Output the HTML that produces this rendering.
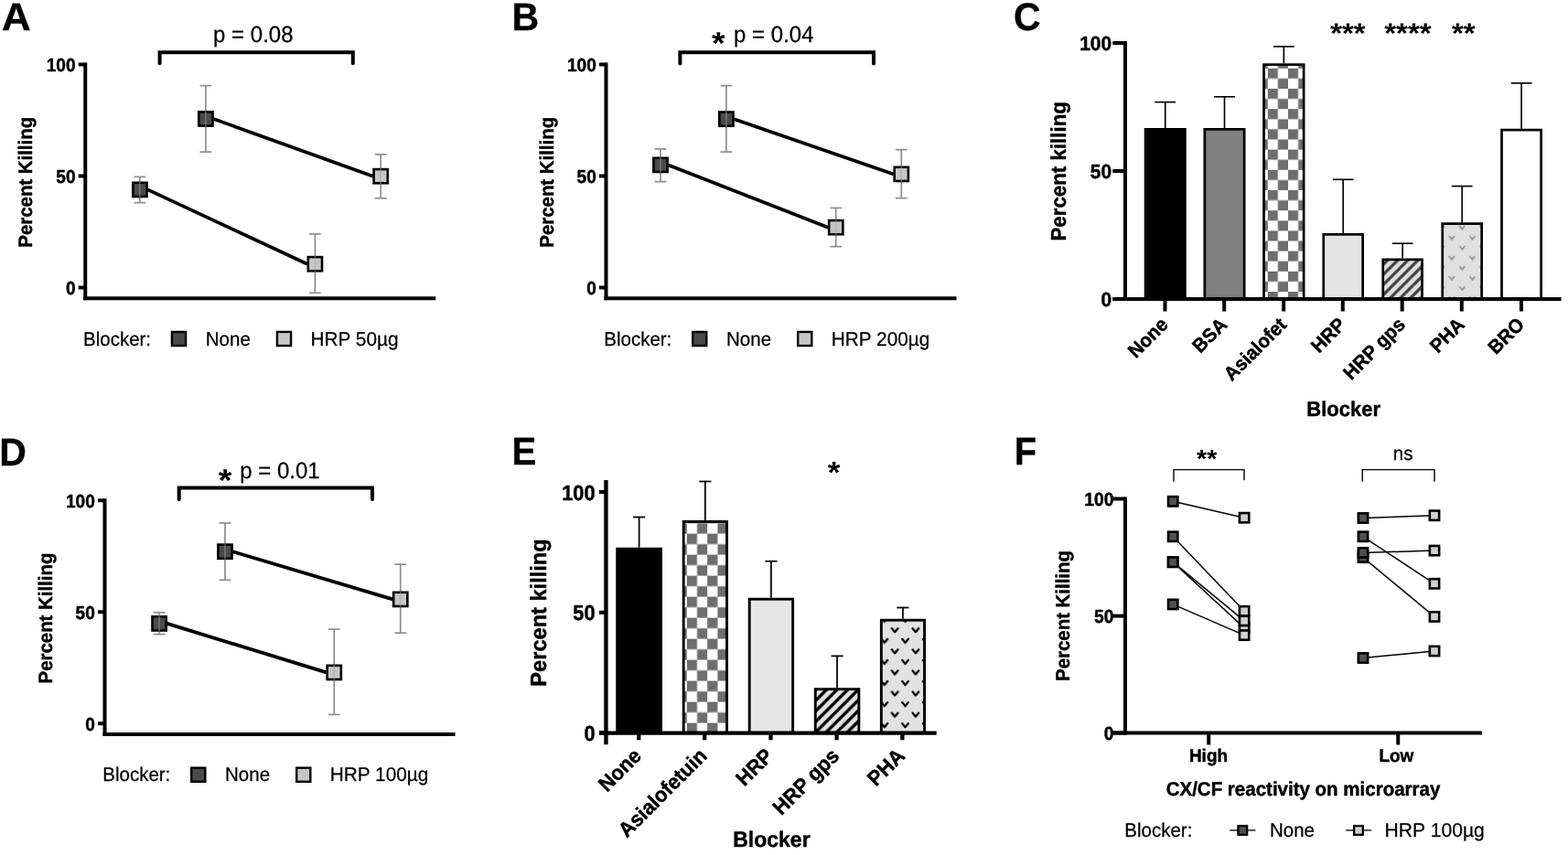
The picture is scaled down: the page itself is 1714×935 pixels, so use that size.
<!DOCTYPE html>
<html lang="en"><head><meta charset="utf-8"><title>Figure</title>
<style>
html,body{margin:0;padding:0;background:#fff;}
body{width:1714px;height:935px;overflow:hidden;}
svg{display:block;text-rendering:geometricPrecision;font-family:'Liberation Sans', sans-serif;}
svg text{fill:#000;}
</style></head>
<body>
<svg width="1714" height="935" viewBox="0 0 1714 935">
<rect x="0" y="0" width="1714" height="935" fill="#fff" stroke="none"/>
<text transform="translate(1.70 33.20) scale(1.08 1.04)" font-size="41" font-weight="700" text-anchor="start" stroke="#000" stroke-width="0.3" stroke-linejoin="round">A</text>
<line x1="93.25" y1="68.50" x2="93.25" y2="328.25" stroke="#000" stroke-width="4.0" stroke-linecap="butt"/>
<line x1="91.25" y1="326.25" x2="476.25" y2="326.25" stroke="#000" stroke-width="4.0" stroke-linecap="butt"/>
<line x1="85.75" y1="70.50" x2="93.25" y2="70.50" stroke="#000" stroke-width="4.0" stroke-linecap="butt"/>
<text transform="translate(82.55 78.20) scale(0.98 1.04)" font-size="19.5" font-weight="700" text-anchor="end" stroke="#000" stroke-width="0.45" stroke-linejoin="round">100</text>
<line x1="85.75" y1="192.50" x2="93.25" y2="192.50" stroke="#000" stroke-width="4.0" stroke-linecap="butt"/>
<text transform="translate(82.55 200.20) scale(0.98 1.04)" font-size="19.5" font-weight="700" text-anchor="end" stroke="#000" stroke-width="0.45" stroke-linejoin="round">50</text>
<line x1="85.75" y1="314.50" x2="93.25" y2="314.50" stroke="#000" stroke-width="4.0" stroke-linecap="butt"/>
<text transform="translate(82.55 322.20) scale(0.98 1.04)" font-size="19.5" font-weight="700" text-anchor="end" stroke="#000" stroke-width="0.45" stroke-linejoin="round">0</text>
<text transform="translate(35.30 199.30) rotate(-90) scale(1.0 1.04)" font-size="20.4" font-weight="700" text-anchor="middle" stroke="#000" stroke-width="0.45" stroke-linejoin="round">Percent Killing</text>
<polyline points="174.60,69.30 174.60,57.15 385.80,57.15 385.80,69.30" fill="none" stroke="#000" stroke-width="4.0" stroke-linecap="round" stroke-linejoin="miter"/>
<text transform="translate(233.10 46.00) scale(1.0 1.04)" font-size="24.0" text-anchor="start" stroke="#000" stroke-width="0.25" stroke-linejoin="round">p = 0.08</text>
<line x1="152.90" y1="193.40" x2="152.90" y2="221.65" stroke="#8e8e8e" stroke-width="1.7" stroke-linecap="butt"/>
<line x1="146.50" y1="193.40" x2="159.30" y2="193.40" stroke="#8e8e8e" stroke-width="1.7" stroke-linecap="butt"/>
<line x1="146.50" y1="221.65" x2="159.30" y2="221.65" stroke="#8e8e8e" stroke-width="1.7" stroke-linecap="butt"/>
<line x1="224.90" y1="93.65" x2="224.90" y2="166.15" stroke="#8e8e8e" stroke-width="1.7" stroke-linecap="butt"/>
<line x1="218.50" y1="93.65" x2="231.30" y2="93.65" stroke="#8e8e8e" stroke-width="1.7" stroke-linecap="butt"/>
<line x1="218.50" y1="166.15" x2="231.30" y2="166.15" stroke="#8e8e8e" stroke-width="1.7" stroke-linecap="butt"/>
<line x1="416.20" y1="168.90" x2="416.20" y2="216.80" stroke="#8e8e8e" stroke-width="1.7" stroke-linecap="butt"/>
<line x1="409.80" y1="168.90" x2="422.60" y2="168.90" stroke="#8e8e8e" stroke-width="1.7" stroke-linecap="butt"/>
<line x1="409.80" y1="216.80" x2="422.60" y2="216.80" stroke="#8e8e8e" stroke-width="1.7" stroke-linecap="butt"/>
<line x1="344.40" y1="255.90" x2="344.40" y2="320.30" stroke="#8e8e8e" stroke-width="1.7" stroke-linecap="butt"/>
<line x1="338.00" y1="255.90" x2="350.80" y2="255.90" stroke="#8e8e8e" stroke-width="1.7" stroke-linecap="butt"/>
<line x1="338.00" y1="320.30" x2="350.80" y2="320.30" stroke="#8e8e8e" stroke-width="1.7" stroke-linecap="butt"/>
<line x1="161.40" y1="207.40" x2="335.90" y2="288.70" stroke="#000" stroke-width="3.75" stroke-linecap="butt"/>
<line x1="233.40" y1="130.00" x2="407.70" y2="192.70" stroke="#000" stroke-width="3.75" stroke-linecap="butt"/>
<rect x="145.30" y="199.80" width="15.20" height="15.20" fill="#4a4a4a" stroke="#000" stroke-width="2.6"/>
<line x1="152.90" y1="198.60" x2="152.90" y2="216.20" stroke="rgba(160,160,160,0.5)" stroke-width="1.7" stroke-linecap="butt"/>
<rect x="217.30" y="122.40" width="15.20" height="15.20" fill="#4a4a4a" stroke="#000" stroke-width="2.6"/>
<line x1="224.90" y1="121.20" x2="224.90" y2="138.80" stroke="rgba(160,160,160,0.5)" stroke-width="1.7" stroke-linecap="butt"/>
<rect x="408.60" y="185.10" width="15.20" height="15.20" fill="#c6c6c6" stroke="#000" stroke-width="2.6"/>
<line x1="416.20" y1="183.90" x2="416.20" y2="201.50" stroke="rgba(160,160,160,0.5)" stroke-width="1.7" stroke-linecap="butt"/>
<rect x="336.80" y="281.10" width="15.20" height="15.20" fill="#c6c6c6" stroke="#000" stroke-width="2.6"/>
<line x1="344.40" y1="279.90" x2="344.40" y2="297.50" stroke="rgba(160,160,160,0.5)" stroke-width="1.7" stroke-linecap="butt"/>
<text transform="translate(91.00 377.50) scale(1.0 1.04)" font-size="20.5" text-anchor="start" stroke="#000" stroke-width="0.25" stroke-linejoin="round">Blocker:</text>
<rect x="187.95" y="362.95" width="15.10" height="15.10" fill="#4a4a4a" stroke="#000" stroke-width="2.4"/>
<text transform="translate(224.80 377.50) scale(1.0 1.04)" font-size="20.5" text-anchor="start" stroke="#000" stroke-width="0.25" stroke-linejoin="round">None</text>
<rect x="302.95" y="362.95" width="15.10" height="15.10" fill="#c6c6c6" stroke="#000" stroke-width="2.4"/>
<text transform="translate(339.50 377.50) scale(1.015 1.04)" font-size="20.5" text-anchor="start" stroke="#000" stroke-width="0.25" stroke-linejoin="round">HRP 50µg</text>
<text transform="translate(559.50 32.80) scale(1.0 1.04)" font-size="41" font-weight="700" text-anchor="start" stroke="#000" stroke-width="0.3" stroke-linejoin="round">B</text>
<line x1="662.50" y1="68.50" x2="662.50" y2="328.25" stroke="#000" stroke-width="4.0" stroke-linecap="butt"/>
<line x1="660.50" y1="326.25" x2="1045.50" y2="326.25" stroke="#000" stroke-width="4.0" stroke-linecap="butt"/>
<line x1="655.00" y1="70.50" x2="662.50" y2="70.50" stroke="#000" stroke-width="4.0" stroke-linecap="butt"/>
<text transform="translate(651.80 78.20) scale(0.98 1.04)" font-size="19.5" font-weight="700" text-anchor="end" stroke="#000" stroke-width="0.45" stroke-linejoin="round">100</text>
<line x1="655.00" y1="192.50" x2="662.50" y2="192.50" stroke="#000" stroke-width="4.0" stroke-linecap="butt"/>
<text transform="translate(651.80 200.20) scale(0.98 1.04)" font-size="19.5" font-weight="700" text-anchor="end" stroke="#000" stroke-width="0.45" stroke-linejoin="round">50</text>
<line x1="655.00" y1="314.50" x2="662.50" y2="314.50" stroke="#000" stroke-width="4.0" stroke-linecap="butt"/>
<text transform="translate(651.80 322.20) scale(0.98 1.04)" font-size="19.5" font-weight="700" text-anchor="end" stroke="#000" stroke-width="0.45" stroke-linejoin="round">0</text>
<text transform="translate(604.55 199.30) rotate(-90) scale(1.0 1.04)" font-size="20.4" font-weight="700" text-anchor="middle" stroke="#000" stroke-width="0.45" stroke-linejoin="round">Percent Killing</text>
<polyline points="743.40,69.60 743.40,57.30 955.00,57.30 955.00,69.60" fill="none" stroke="#000" stroke-width="4.0" stroke-linecap="round" stroke-linejoin="miter"/>
<text transform="translate(802.10 46.10) scale(1.0 1.04)" font-size="24.0" text-anchor="start" stroke="#000" stroke-width="0.25" stroke-linejoin="round">p = 0.04</text>
<text transform="translate(785.30 58.90) scale(1.08 1)" font-size="34.7" font-weight="700" text-anchor="middle">*</text>
<line x1="722.00" y1="162.90" x2="722.00" y2="198.65" stroke="#8e8e8e" stroke-width="1.7" stroke-linecap="butt"/>
<line x1="715.60" y1="162.90" x2="728.40" y2="162.90" stroke="#8e8e8e" stroke-width="1.7" stroke-linecap="butt"/>
<line x1="715.60" y1="198.65" x2="728.40" y2="198.65" stroke="#8e8e8e" stroke-width="1.7" stroke-linecap="butt"/>
<line x1="793.90" y1="93.65" x2="793.90" y2="166.15" stroke="#8e8e8e" stroke-width="1.7" stroke-linecap="butt"/>
<line x1="787.50" y1="93.65" x2="800.30" y2="93.65" stroke="#8e8e8e" stroke-width="1.7" stroke-linecap="butt"/>
<line x1="787.50" y1="166.15" x2="800.30" y2="166.15" stroke="#8e8e8e" stroke-width="1.7" stroke-linecap="butt"/>
<line x1="985.30" y1="163.65" x2="985.30" y2="216.65" stroke="#8e8e8e" stroke-width="1.7" stroke-linecap="butt"/>
<line x1="978.90" y1="163.65" x2="991.70" y2="163.65" stroke="#8e8e8e" stroke-width="1.7" stroke-linecap="butt"/>
<line x1="978.90" y1="216.65" x2="991.70" y2="216.65" stroke="#8e8e8e" stroke-width="1.7" stroke-linecap="butt"/>
<line x1="913.75" y1="227.40" x2="913.75" y2="269.65" stroke="#8e8e8e" stroke-width="1.7" stroke-linecap="butt"/>
<line x1="907.35" y1="227.40" x2="920.15" y2="227.40" stroke="#8e8e8e" stroke-width="1.7" stroke-linecap="butt"/>
<line x1="907.35" y1="269.65" x2="920.15" y2="269.65" stroke="#8e8e8e" stroke-width="1.7" stroke-linecap="butt"/>
<line x1="730.50" y1="180.40" x2="905.25" y2="248.65" stroke="#000" stroke-width="3.75" stroke-linecap="butt"/>
<line x1="802.40" y1="130.15" x2="976.80" y2="190.40" stroke="#000" stroke-width="3.75" stroke-linecap="butt"/>
<rect x="714.40" y="172.80" width="15.20" height="15.20" fill="#4a4a4a" stroke="#000" stroke-width="2.6"/>
<line x1="722.00" y1="171.60" x2="722.00" y2="189.20" stroke="rgba(160,160,160,0.5)" stroke-width="1.7" stroke-linecap="butt"/>
<rect x="786.30" y="122.55" width="15.20" height="15.20" fill="#4a4a4a" stroke="#000" stroke-width="2.6"/>
<line x1="793.90" y1="121.35" x2="793.90" y2="138.95" stroke="rgba(160,160,160,0.5)" stroke-width="1.7" stroke-linecap="butt"/>
<rect x="977.70" y="182.80" width="15.20" height="15.20" fill="#c6c6c6" stroke="#000" stroke-width="2.6"/>
<line x1="985.30" y1="181.60" x2="985.30" y2="199.20" stroke="rgba(160,160,160,0.5)" stroke-width="1.7" stroke-linecap="butt"/>
<rect x="906.15" y="241.05" width="15.20" height="15.20" fill="#c6c6c6" stroke="#000" stroke-width="2.6"/>
<line x1="913.75" y1="239.85" x2="913.75" y2="257.45" stroke="rgba(160,160,160,0.5)" stroke-width="1.7" stroke-linecap="butt"/>
<text transform="translate(660.25 377.50) scale(1.0 1.04)" font-size="20.5" text-anchor="start" stroke="#000" stroke-width="0.25" stroke-linejoin="round">Blocker:</text>
<rect x="757.20" y="362.95" width="15.10" height="15.10" fill="#4a4a4a" stroke="#000" stroke-width="2.4"/>
<text transform="translate(794.05 377.50) scale(1.0 1.04)" font-size="20.5" text-anchor="start" stroke="#000" stroke-width="0.25" stroke-linejoin="round">None</text>
<rect x="872.20" y="362.95" width="15.10" height="15.10" fill="#c6c6c6" stroke="#000" stroke-width="2.4"/>
<text transform="translate(908.75 377.50) scale(1.015 1.04)" font-size="20.5" text-anchor="start" stroke="#000" stroke-width="0.25" stroke-linejoin="round">HRP 200µg</text>
<text transform="translate(-0.70 508.50) scale(1.0 1.04)" font-size="41" font-weight="700" text-anchor="start" stroke="#000" stroke-width="0.3" stroke-linejoin="round">D</text>
<line x1="114.50" y1="545.25" x2="114.50" y2="805.00" stroke="#000" stroke-width="4.0" stroke-linecap="butt"/>
<line x1="112.50" y1="803.00" x2="497.50" y2="803.00" stroke="#000" stroke-width="4.0" stroke-linecap="butt"/>
<line x1="107.00" y1="547.25" x2="114.50" y2="547.25" stroke="#000" stroke-width="4.0" stroke-linecap="butt"/>
<text transform="translate(103.80 554.95) scale(0.98 1.04)" font-size="19.5" font-weight="700" text-anchor="end" stroke="#000" stroke-width="0.45" stroke-linejoin="round">100</text>
<line x1="107.00" y1="669.25" x2="114.50" y2="669.25" stroke="#000" stroke-width="4.0" stroke-linecap="butt"/>
<text transform="translate(103.80 676.95) scale(0.98 1.04)" font-size="19.5" font-weight="700" text-anchor="end" stroke="#000" stroke-width="0.45" stroke-linejoin="round">50</text>
<line x1="107.00" y1="791.25" x2="114.50" y2="791.25" stroke="#000" stroke-width="4.0" stroke-linecap="butt"/>
<text transform="translate(103.80 798.95) scale(0.98 1.04)" font-size="19.5" font-weight="700" text-anchor="end" stroke="#000" stroke-width="0.45" stroke-linejoin="round">0</text>
<text transform="translate(56.55 676.05) rotate(-90) scale(1.0 1.04)" font-size="20.4" font-weight="700" text-anchor="middle" stroke="#000" stroke-width="0.45" stroke-linejoin="round">Percent Killing</text>
<polyline points="195.70,546.00 195.70,533.50 407.00,533.50 407.00,546.00" fill="none" stroke="#000" stroke-width="4.0" stroke-linecap="round" stroke-linejoin="miter"/>
<text transform="translate(262.30 523.40) scale(1.0 1.04)" font-size="24.0" text-anchor="start" stroke="#000" stroke-width="0.25" stroke-linejoin="round">p = 0.01</text>
<text transform="translate(246.00 537.20) scale(1.08 1)" font-size="34.7" font-weight="700" text-anchor="middle">*</text>
<line x1="174.10" y1="669.80" x2="174.10" y2="693.65" stroke="#8e8e8e" stroke-width="1.7" stroke-linecap="butt"/>
<line x1="167.70" y1="669.80" x2="180.50" y2="669.80" stroke="#8e8e8e" stroke-width="1.7" stroke-linecap="butt"/>
<line x1="167.70" y1="693.65" x2="180.50" y2="693.65" stroke="#8e8e8e" stroke-width="1.7" stroke-linecap="butt"/>
<line x1="246.00" y1="572.00" x2="246.00" y2="634.30" stroke="#8e8e8e" stroke-width="1.7" stroke-linecap="butt"/>
<line x1="239.60" y1="572.00" x2="252.40" y2="572.00" stroke="#8e8e8e" stroke-width="1.7" stroke-linecap="butt"/>
<line x1="239.60" y1="634.30" x2="252.40" y2="634.30" stroke="#8e8e8e" stroke-width="1.7" stroke-linecap="butt"/>
<line x1="437.75" y1="617.10" x2="437.75" y2="692.15" stroke="#8e8e8e" stroke-width="1.7" stroke-linecap="butt"/>
<line x1="431.35" y1="617.10" x2="444.15" y2="617.10" stroke="#8e8e8e" stroke-width="1.7" stroke-linecap="butt"/>
<line x1="431.35" y1="692.15" x2="444.15" y2="692.15" stroke="#8e8e8e" stroke-width="1.7" stroke-linecap="butt"/>
<line x1="365.25" y1="688.15" x2="365.25" y2="781.40" stroke="#8e8e8e" stroke-width="1.7" stroke-linecap="butt"/>
<line x1="358.85" y1="688.15" x2="371.65" y2="688.15" stroke="#8e8e8e" stroke-width="1.7" stroke-linecap="butt"/>
<line x1="358.85" y1="781.40" x2="371.65" y2="781.40" stroke="#8e8e8e" stroke-width="1.7" stroke-linecap="butt"/>
<line x1="182.60" y1="681.90" x2="356.75" y2="735.40" stroke="#000" stroke-width="3.75" stroke-linecap="butt"/>
<line x1="254.50" y1="603.20" x2="429.25" y2="655.40" stroke="#000" stroke-width="3.75" stroke-linecap="butt"/>
<rect x="166.50" y="674.30" width="15.20" height="15.20" fill="#4a4a4a" stroke="#000" stroke-width="2.6"/>
<line x1="174.10" y1="673.10" x2="174.10" y2="690.70" stroke="rgba(160,160,160,0.5)" stroke-width="1.7" stroke-linecap="butt"/>
<rect x="238.40" y="595.60" width="15.20" height="15.20" fill="#4a4a4a" stroke="#000" stroke-width="2.6"/>
<line x1="246.00" y1="594.40" x2="246.00" y2="612.00" stroke="rgba(160,160,160,0.5)" stroke-width="1.7" stroke-linecap="butt"/>
<rect x="430.15" y="647.80" width="15.20" height="15.20" fill="#c6c6c6" stroke="#000" stroke-width="2.6"/>
<line x1="437.75" y1="646.60" x2="437.75" y2="664.20" stroke="rgba(160,160,160,0.5)" stroke-width="1.7" stroke-linecap="butt"/>
<rect x="357.65" y="727.80" width="15.20" height="15.20" fill="#c6c6c6" stroke="#000" stroke-width="2.6"/>
<line x1="365.25" y1="726.60" x2="365.25" y2="744.20" stroke="rgba(160,160,160,0.5)" stroke-width="1.7" stroke-linecap="butt"/>
<text transform="translate(112.25 854.25) scale(1.0 1.04)" font-size="20.5" text-anchor="start" stroke="#000" stroke-width="0.25" stroke-linejoin="round">Blocker:</text>
<rect x="209.20" y="839.70" width="15.10" height="15.10" fill="#4a4a4a" stroke="#000" stroke-width="2.4"/>
<text transform="translate(246.05 854.25) scale(1.0 1.04)" font-size="20.5" text-anchor="start" stroke="#000" stroke-width="0.25" stroke-linejoin="round">None</text>
<rect x="324.20" y="839.70" width="15.10" height="15.10" fill="#c6c6c6" stroke="#000" stroke-width="2.4"/>
<text transform="translate(360.75 854.25) scale(1.015 1.04)" font-size="20.5" text-anchor="start" stroke="#000" stroke-width="0.25" stroke-linejoin="round">HRP 100µg</text>
<defs>
<pattern id="chkC" x="1385.8" y="74.8" width="22.2" height="22.2" patternUnits="userSpaceOnUse">
<rect width="22.2" height="22.2" fill="#fff"/><rect x="0" y="0" width="11.1" height="11.1" fill="#6e6e6e"/><rect x="11.1" y="11.1" width="11.1" height="11.1" fill="#6e6e6e"/></pattern>
<pattern id="chkE" x="750.8" y="583.6" width="22.4" height="23.0" patternUnits="userSpaceOnUse">
<rect width="22.4" height="23.0" fill="#fff"/><rect x="0" y="0" width="11.2" height="11.5" fill="#6e6e6e"/><rect x="11.2" y="11.5" width="11.2" height="11.5" fill="#6e6e6e"/></pattern>
<pattern id="hatC" x="1521" y="313.53" width="11.07" height="11.07" patternUnits="userSpaceOnUse">
<rect width="11.07" height="11.07" fill="#e0e0e0"/><path d="M-3,3 L3,-3 M-1,12.07 L12.07,-1 M8.07,14.07 L14.07,8.07" stroke="#404040" stroke-width="3.3"/></pattern>
<pattern id="hatE" x="904.4" y="787.95" width="11.55" height="11.55" patternUnits="userSpaceOnUse">
<rect width="11.55" height="11.55" fill="#e2e2e2"/><path d="M-3,3 L3,-3 M-1,12.55 L12.55,-1 M8.55,14.55 L14.55,8.55" stroke="#000" stroke-width="3.4"/></pattern>
<pattern id="vC" x="1587.1" y="262.5" width="22.4" height="22.1" patternUnits="userSpaceOnUse">
<rect x="-1" y="-1" width="25" height="25" fill="#e0e0e0"/>
<path d="M-3.00,-3.80 L0.00,0.00 L3.00,-3.80 M19.40,-3.80 L22.40,0.00 L25.40,-3.80 M-3.00,18.30 L0.00,22.10 L3.00,18.30 M19.40,18.30 L22.40,22.10 L25.40,18.30 M8.20,7.25 L11.20,11.05 L14.20,7.25 M8.20,-14.85 L11.20,-11.05 L14.20,-14.85 M8.20,29.35 L11.20,33.15 L14.20,29.35 M-14.20,7.25 L-11.20,11.05 L-8.20,7.25 M30.60,7.25 L33.60,11.05 L36.60,7.25" stroke="#909090" stroke-width="1.7" fill="none" transform="translate(0 -0.7)"/></pattern>
<pattern id="vE" x="978.2" y="715.15" width="22.7" height="23.1" patternUnits="userSpaceOnUse">
<rect x="-1" y="-1" width="25" height="25" fill="#e2e2e2"/>
<path d="M-3.30,-4.00 L0.00,0.00 L3.30,-4.00 M19.40,-4.00 L22.70,0.00 L26.00,-4.00 M-3.30,19.10 L0.00,23.10 L3.30,19.10 M19.40,19.10 L22.70,23.10 L26.00,19.10 M8.05,7.55 L11.35,11.55 L14.65,7.55 M8.05,-15.55 L11.35,-11.55 L14.65,-15.55 M8.05,30.65 L11.35,34.65 L14.65,30.65 M-14.65,7.55 L-11.35,11.55 L-8.05,7.55 M30.75,7.55 L34.05,11.55 L37.35,7.55" stroke="#000" stroke-width="2.3" transform="translate(0 -0.8)" stroke-linecap="round" stroke-linejoin="round" fill="none"/></pattern>
</defs>
<text transform="translate(1107.90 32.80) scale(1.0 1.04)" font-size="41" font-weight="700" text-anchor="start" stroke="#000" stroke-width="0.3" stroke-linejoin="round">C</text>
<line x1="1273.75" y1="111.65" x2="1273.75" y2="140.00" stroke="#000" stroke-width="1.65" stroke-linecap="butt"/>
<line x1="1262.35" y1="111.65" x2="1285.15" y2="111.65" stroke="#000" stroke-width="1.65" stroke-linecap="butt"/>
<rect x="1252.10" y="141.35" width="43.30" height="185.65" fill="#000" stroke="#000" stroke-width="2.7"/>
<line x1="1338.50" y1="105.80" x2="1338.50" y2="140.00" stroke="#000" stroke-width="1.65" stroke-linecap="butt"/>
<line x1="1327.10" y1="105.80" x2="1349.90" y2="105.80" stroke="#000" stroke-width="1.65" stroke-linecap="butt"/>
<rect x="1316.85" y="141.35" width="43.30" height="185.65" fill="#808080" stroke="#000" stroke-width="2.7"/>
<line x1="1403.35" y1="50.90" x2="1403.35" y2="69.30" stroke="#000" stroke-width="1.65" stroke-linecap="butt"/>
<line x1="1391.95" y1="50.90" x2="1414.75" y2="50.90" stroke="#000" stroke-width="1.65" stroke-linecap="butt"/>
<rect x="1381.55" y="70.65" width="43.60" height="256.35" fill="url(#chkC)" stroke="#000" stroke-width="2.7"/>
<line x1="1468.20" y1="196.30" x2="1468.20" y2="255.00" stroke="#000" stroke-width="1.65" stroke-linecap="butt"/>
<line x1="1456.80" y1="196.30" x2="1479.60" y2="196.30" stroke="#000" stroke-width="1.65" stroke-linecap="butt"/>
<rect x="1446.75" y="256.35" width="42.90" height="70.65" fill="#e4e4e4" stroke="#000" stroke-width="2.7"/>
<line x1="1533.15" y1="266.20" x2="1533.15" y2="282.50" stroke="#000" stroke-width="1.65" stroke-linecap="butt"/>
<line x1="1521.75" y1="266.20" x2="1544.55" y2="266.20" stroke="#000" stroke-width="1.65" stroke-linecap="butt"/>
<rect x="1511.75" y="283.85" width="42.80" height="43.15" fill="url(#hatC)" stroke="#000" stroke-width="2.7"/>
<line x1="1598.20" y1="203.60" x2="1598.20" y2="243.25" stroke="#000" stroke-width="1.65" stroke-linecap="butt"/>
<line x1="1586.80" y1="203.60" x2="1609.60" y2="203.60" stroke="#000" stroke-width="1.65" stroke-linecap="butt"/>
<rect x="1576.75" y="244.60" width="42.90" height="82.40" fill="url(#vC)" stroke="#000" stroke-width="2.7"/>
<line x1="1663.10" y1="90.90" x2="1663.10" y2="140.75" stroke="#000" stroke-width="1.65" stroke-linecap="butt"/>
<line x1="1651.70" y1="90.90" x2="1674.50" y2="90.90" stroke="#000" stroke-width="1.65" stroke-linecap="butt"/>
<rect x="1641.55" y="142.10" width="43.10" height="184.90" fill="#fff" stroke="#000" stroke-width="2.7"/>
<line x1="1230.00" y1="45.00" x2="1230.00" y2="329.00" stroke="#000" stroke-width="4.0" stroke-linecap="butt"/>
<line x1="1216.25" y1="327.00" x2="1706.50" y2="327.00" stroke="#000" stroke-width="4.0" stroke-linecap="butt"/>
<line x1="1216.25" y1="47.00" x2="1230.00" y2="47.00" stroke="#000" stroke-width="4.0" stroke-linecap="butt"/>
<text transform="translate(1215.20 54.60) scale(1.0 1.04)" font-size="21" font-weight="700" text-anchor="end" stroke="#000" stroke-width="0.45" stroke-linejoin="round">100</text>
<line x1="1216.25" y1="187.00" x2="1230.00" y2="187.00" stroke="#000" stroke-width="4.0" stroke-linecap="butt"/>
<text transform="translate(1215.20 194.60) scale(1.0 1.04)" font-size="21" font-weight="700" text-anchor="end" stroke="#000" stroke-width="0.45" stroke-linejoin="round">50</text>
<line x1="1216.25" y1="327.00" x2="1230.00" y2="327.00" stroke="#000" stroke-width="4.0" stroke-linecap="butt"/>
<text transform="translate(1215.20 334.60) scale(1.0 1.04)" font-size="21" font-weight="700" text-anchor="end" stroke="#000" stroke-width="0.45" stroke-linejoin="round">0</text>
<line x1="1273.50" y1="327.00" x2="1273.50" y2="340.50" stroke="#000" stroke-width="4.0" stroke-linecap="butt"/>
<text transform="translate(1278.00 356.30) rotate(-45) scale(1.0 1.04)" font-size="20.5" font-weight="700" text-anchor="end" stroke="#000" stroke-width="0.45" stroke-linejoin="round">None</text>
<line x1="1338.20" y1="327.00" x2="1338.20" y2="340.50" stroke="#000" stroke-width="4.0" stroke-linecap="butt"/>
<text transform="translate(1342.70 356.30) rotate(-45) scale(1.0 1.04)" font-size="20.5" font-weight="700" text-anchor="end" stroke="#000" stroke-width="0.45" stroke-linejoin="round">BSA</text>
<line x1="1403.20" y1="327.00" x2="1403.20" y2="340.50" stroke="#000" stroke-width="4.0" stroke-linecap="butt"/>
<text transform="translate(1407.70 356.30) rotate(-45) scale(1.0 1.04)" font-size="20.5" font-weight="700" text-anchor="end" stroke="#000" stroke-width="0.45" stroke-linejoin="round">Asialofet</text>
<line x1="1467.80" y1="327.00" x2="1467.80" y2="340.50" stroke="#000" stroke-width="4.0" stroke-linecap="butt"/>
<text transform="translate(1472.30 356.30) rotate(-45) scale(1.0 1.04)" font-size="20.5" font-weight="700" text-anchor="end" stroke="#000" stroke-width="0.45" stroke-linejoin="round">HRP</text>
<line x1="1532.70" y1="327.00" x2="1532.70" y2="340.50" stroke="#000" stroke-width="4.0" stroke-linecap="butt"/>
<text transform="translate(1537.20 356.30) rotate(-45) scale(1.0 1.04)" font-size="20.5" font-weight="700" text-anchor="end" stroke="#000" stroke-width="0.45" stroke-linejoin="round">HRP gps</text>
<line x1="1597.80" y1="327.00" x2="1597.80" y2="340.50" stroke="#000" stroke-width="4.0" stroke-linecap="butt"/>
<text transform="translate(1602.30 356.30) rotate(-45) scale(1.0 1.04)" font-size="20.5" font-weight="700" text-anchor="end" stroke="#000" stroke-width="0.45" stroke-linejoin="round">PHA</text>
<line x1="1663.00" y1="327.00" x2="1663.00" y2="340.50" stroke="#000" stroke-width="4.0" stroke-linecap="butt"/>
<text transform="translate(1667.50 356.30) rotate(-45) scale(1.0 1.04)" font-size="20.5" font-weight="700" text-anchor="end" stroke="#000" stroke-width="0.45" stroke-linejoin="round">BRO</text>
<text transform="translate(1164.80 187.30) rotate(-90) scale(1.0 1.04)" font-size="22.3" font-weight="700" text-anchor="middle" stroke="#000" stroke-width="0.45" stroke-linejoin="round">Percent killing</text>
<text transform="translate(1468.70 455.30) scale(1.0 1.04)" font-size="22" font-weight="700" text-anchor="middle" stroke="#000" stroke-width="0.45" stroke-linejoin="round">Blocker</text>
<text transform="translate(1473.40 46.70) scale(1.0 0.95)" font-size="33" font-weight="700" text-anchor="middle">***</text>
<text transform="translate(1538.90 46.70) scale(1.0 0.95)" font-size="33" font-weight="700" text-anchor="middle">****</text>
<text transform="translate(1599.80 46.70) scale(1.0 0.95)" font-size="33" font-weight="700" text-anchor="middle">**</text>
<text transform="translate(559.60 508.10) scale(0.98 1.04)" font-size="41" font-weight="700" text-anchor="start" stroke="#000" stroke-width="0.3" stroke-linejoin="round">E</text>
<line x1="698.62" y1="565.50" x2="698.62" y2="598.75" stroke="#000" stroke-width="1.75" stroke-linecap="butt"/>
<line x1="692.08" y1="565.50" x2="705.17" y2="565.50" stroke="#000" stroke-width="1.75" stroke-linecap="butt"/>
<rect x="674.70" y="600.20" width="47.85" height="201.20" fill="#000" stroke="#000" stroke-width="2.9"/>
<line x1="770.88" y1="526.50" x2="770.88" y2="569.00" stroke="#000" stroke-width="1.75" stroke-linecap="butt"/>
<line x1="764.33" y1="526.50" x2="777.42" y2="526.50" stroke="#000" stroke-width="1.75" stroke-linecap="butt"/>
<rect x="747.20" y="570.45" width="47.35" height="230.95" fill="url(#chkE)" stroke="#000" stroke-width="2.9"/>
<line x1="842.92" y1="613.75" x2="842.92" y2="653.75" stroke="#000" stroke-width="1.75" stroke-linecap="butt"/>
<line x1="836.38" y1="613.75" x2="849.47" y2="613.75" stroke="#000" stroke-width="1.75" stroke-linecap="butt"/>
<rect x="819.20" y="655.20" width="47.45" height="146.20" fill="#e6e6e6" stroke="#000" stroke-width="2.9"/>
<line x1="915.05" y1="717.40" x2="915.05" y2="752.20" stroke="#000" stroke-width="1.75" stroke-linecap="butt"/>
<line x1="908.50" y1="717.40" x2="921.60" y2="717.40" stroke="#000" stroke-width="1.75" stroke-linecap="butt"/>
<rect x="891.25" y="753.65" width="47.60" height="47.75" fill="url(#hatE)" stroke="#000" stroke-width="2.9"/>
<line x1="986.95" y1="664.50" x2="986.95" y2="676.75" stroke="#000" stroke-width="1.75" stroke-linecap="butt"/>
<line x1="980.40" y1="664.50" x2="993.50" y2="664.50" stroke="#000" stroke-width="1.75" stroke-linecap="butt"/>
<rect x="963.35" y="678.20" width="47.20" height="123.20" fill="url(#vE)" stroke="#000" stroke-width="2.9"/>
<line x1="662.45" y1="525.00" x2="662.45" y2="814.25" stroke="#000" stroke-width="4.4" stroke-linecap="butt"/>
<line x1="655.00" y1="801.60" x2="1023.70" y2="801.60" stroke="#000" stroke-width="4.4" stroke-linecap="butt"/>
<line x1="655.00" y1="538.00" x2="662.25" y2="538.00" stroke="#000" stroke-width="4.2" stroke-linecap="butt"/>
<text transform="translate(650.60 546.60) scale(0.97 1.04)" font-size="22.5" font-weight="700" text-anchor="end" stroke="#000" stroke-width="0.45" stroke-linejoin="round">100</text>
<line x1="655.00" y1="669.80" x2="662.25" y2="669.80" stroke="#000" stroke-width="4.2" stroke-linecap="butt"/>
<text transform="translate(650.60 678.40) scale(0.97 1.04)" font-size="22.5" font-weight="700" text-anchor="end" stroke="#000" stroke-width="0.45" stroke-linejoin="round">50</text>
<line x1="655.00" y1="801.40" x2="662.25" y2="801.40" stroke="#000" stroke-width="4.2" stroke-linecap="butt"/>
<text transform="translate(650.60 810.00) scale(0.97 1.04)" font-size="22.5" font-weight="700" text-anchor="end" stroke="#000" stroke-width="0.45" stroke-linejoin="round">0</text>
<line x1="698.30" y1="801.40" x2="698.30" y2="809.30" stroke="#000" stroke-width="4.3" stroke-linecap="butt"/>
<text transform="translate(702.30 828.00) rotate(-45) scale(1.0 1.04)" font-size="22" font-weight="700" text-anchor="end" stroke="#000" stroke-width="0.45" stroke-linejoin="round">None</text>
<line x1="770.20" y1="801.40" x2="770.20" y2="809.30" stroke="#000" stroke-width="4.3" stroke-linecap="butt"/>
<text transform="translate(774.20 828.00) rotate(-45) scale(1.0 1.04)" font-size="22" font-weight="700" text-anchor="end" stroke="#000" stroke-width="0.45" stroke-linejoin="round">Asialofetuin</text>
<line x1="842.50" y1="801.40" x2="842.50" y2="809.30" stroke="#000" stroke-width="4.3" stroke-linecap="butt"/>
<text transform="translate(846.50 828.00) rotate(-45) scale(1.0 1.04)" font-size="22" font-weight="700" text-anchor="end" stroke="#000" stroke-width="0.45" stroke-linejoin="round">HRP</text>
<line x1="914.60" y1="801.40" x2="914.60" y2="809.30" stroke="#000" stroke-width="4.3" stroke-linecap="butt"/>
<text transform="translate(918.60 828.00) rotate(-45) scale(1.0 1.04)" font-size="22" font-weight="700" text-anchor="end" stroke="#000" stroke-width="0.45" stroke-linejoin="round">HRP gps</text>
<line x1="986.40" y1="801.40" x2="986.40" y2="809.30" stroke="#000" stroke-width="4.3" stroke-linecap="butt"/>
<text transform="translate(990.40 828.00) rotate(-45) scale(1.0 1.04)" font-size="22" font-weight="700" text-anchor="end" stroke="#000" stroke-width="0.45" stroke-linejoin="round">PHA</text>
<text transform="translate(597.40 670.00) rotate(-90) scale(1.0 1.04)" font-size="23.6" font-weight="700" text-anchor="middle" stroke="#000" stroke-width="0.45" stroke-linejoin="round">Percent killing</text>
<text transform="translate(843.40 926.30) scale(1.0 1.04)" font-size="23" font-weight="700" text-anchor="middle" stroke="#000" stroke-width="0.45" stroke-linejoin="round">Blocker</text>
<text transform="translate(911.50 528.10) scale(1.05 1.0)" font-size="33.5" font-weight="700" text-anchor="middle">*</text>
<text transform="translate(1108.70 508.10) scale(0.975 1.04)" font-size="41" font-weight="700" text-anchor="start" stroke="#000" stroke-width="0.3" stroke-linejoin="round">F</text>
<polyline points="1283.0,526.8 1283.0,513.6 1360.0,513.6 1360.0,525.3" fill="none" stroke="#000" stroke-width="1.4"/>
<polyline points="1489.2,526.8 1489.2,513.6 1568.0,513.6 1568.0,526.8" fill="none" stroke="#000" stroke-width="1.4"/>
<text transform="translate(1319.2 511.0) scale(1 0.97)" font-size="28.5" font-weight="700" text-anchor="middle">**</text>
<text transform="translate(1533.60 502.50) scale(1.0 1.04)" font-size="20.5" text-anchor="middle" stroke="#000" stroke-width="0.25" stroke-linejoin="round">ns</text>
<line x1="1282.20" y1="548.30" x2="1360.10" y2="566.20" stroke="#000" stroke-width="1.5" stroke-linecap="butt"/>
<line x1="1282.20" y1="586.80" x2="1360.10" y2="668.30" stroke="#000" stroke-width="1.5" stroke-linecap="butt"/>
<line x1="1282.20" y1="614.70" x2="1360.10" y2="678.90" stroke="#000" stroke-width="1.5" stroke-linecap="butt"/>
<line x1="1282.20" y1="614.70" x2="1360.10" y2="686.60" stroke="#000" stroke-width="1.5" stroke-linecap="butt"/>
<line x1="1282.20" y1="660.90" x2="1360.10" y2="694.60" stroke="#000" stroke-width="1.5" stroke-linecap="butt"/>
<line x1="1490.00" y1="566.50" x2="1568.00" y2="563.70" stroke="#000" stroke-width="1.5" stroke-linecap="butt"/>
<line x1="1490.00" y1="586.80" x2="1568.00" y2="638.30" stroke="#000" stroke-width="1.5" stroke-linecap="butt"/>
<line x1="1490.00" y1="604.40" x2="1568.00" y2="602.10" stroke="#000" stroke-width="1.5" stroke-linecap="butt"/>
<line x1="1490.00" y1="609.60" x2="1568.00" y2="674.40" stroke="#000" stroke-width="1.5" stroke-linecap="butt"/>
<line x1="1490.00" y1="719.50" x2="1568.00" y2="712.00" stroke="#000" stroke-width="1.5" stroke-linecap="butt"/>
<rect x="1277.05" y="543.15" width="10.30" height="10.30" fill="#505050" stroke="#000" stroke-width="2.6"/>
<rect x="1277.05" y="581.65" width="10.30" height="10.30" fill="#505050" stroke="#000" stroke-width="2.6"/>
<rect x="1277.05" y="609.55" width="10.30" height="10.30" fill="#505050" stroke="#000" stroke-width="2.6"/>
<rect x="1277.05" y="609.55" width="10.30" height="10.30" fill="#505050" stroke="#000" stroke-width="2.6"/>
<rect x="1277.05" y="655.75" width="10.30" height="10.30" fill="#505050" stroke="#000" stroke-width="2.6"/>
<rect x="1354.95" y="561.05" width="10.30" height="10.30" fill="#d0d0d0" stroke="#000" stroke-width="2.6"/>
<rect x="1354.95" y="681.45" width="10.30" height="10.30" fill="#d0d0d0" stroke="#000" stroke-width="2.6"/>
<rect x="1354.95" y="663.15" width="10.30" height="10.30" fill="#d0d0d0" stroke="#000" stroke-width="2.6"/>
<rect x="1354.95" y="673.75" width="10.30" height="10.30" fill="#d0d0d0" stroke="#000" stroke-width="2.6"/>
<rect x="1354.95" y="689.45" width="10.30" height="10.30" fill="#d0d0d0" stroke="#000" stroke-width="2.6"/>
<rect x="1484.85" y="561.35" width="10.30" height="10.30" fill="#505050" stroke="#000" stroke-width="2.6"/>
<rect x="1484.85" y="581.65" width="10.30" height="10.30" fill="#505050" stroke="#000" stroke-width="2.6"/>
<rect x="1484.85" y="604.45" width="10.30" height="10.30" fill="#505050" stroke="#000" stroke-width="2.6"/>
<rect x="1484.85" y="599.25" width="10.30" height="10.30" fill="#505050" stroke="#000" stroke-width="2.6"/>
<rect x="1484.85" y="714.35" width="10.30" height="10.30" fill="#505050" stroke="#000" stroke-width="2.6"/>
<rect x="1562.85" y="558.55" width="10.30" height="10.30" fill="#d0d0d0" stroke="#000" stroke-width="2.6"/>
<rect x="1562.85" y="633.15" width="10.30" height="10.30" fill="#d0d0d0" stroke="#000" stroke-width="2.6"/>
<rect x="1562.85" y="596.95" width="10.30" height="10.30" fill="#d0d0d0" stroke="#000" stroke-width="2.6"/>
<rect x="1562.85" y="669.25" width="10.30" height="10.30" fill="#d0d0d0" stroke="#000" stroke-width="2.6"/>
<rect x="1562.85" y="706.85" width="10.30" height="10.30" fill="#d0d0d0" stroke="#000" stroke-width="2.6"/>
<line x1="1230.00" y1="543.50" x2="1230.00" y2="803.50" stroke="#000" stroke-width="4.0" stroke-linecap="butt"/>
<line x1="1216.25" y1="801.50" x2="1620.00" y2="801.50" stroke="#000" stroke-width="4.0" stroke-linecap="butt"/>
<line x1="1216.25" y1="545.50" x2="1230.00" y2="545.50" stroke="#000" stroke-width="4.0" stroke-linecap="butt"/>
<text transform="translate(1217.40 552.90) scale(0.98 1.04)" font-size="19.7" font-weight="700" text-anchor="end" stroke="#000" stroke-width="0.45" stroke-linejoin="round">100</text>
<line x1="1216.25" y1="673.60" x2="1230.00" y2="673.60" stroke="#000" stroke-width="4.0" stroke-linecap="butt"/>
<text transform="translate(1217.40 681.00) scale(0.98 1.04)" font-size="19.7" font-weight="700" text-anchor="end" stroke="#000" stroke-width="0.45" stroke-linejoin="round">50</text>
<line x1="1216.25" y1="801.50" x2="1230.00" y2="801.50" stroke="#000" stroke-width="4.0" stroke-linecap="butt"/>
<text transform="translate(1217.40 808.90) scale(0.98 1.04)" font-size="19.7" font-weight="700" text-anchor="end" stroke="#000" stroke-width="0.45" stroke-linejoin="round">0</text>
<line x1="1321.25" y1="801.50" x2="1321.25" y2="814.50" stroke="#000" stroke-width="4.0" stroke-linecap="butt"/>
<text transform="translate(1321.00 833.00) scale(1.0 1.04)" font-size="19" font-weight="700" text-anchor="middle" stroke="#000" stroke-width="0.45" stroke-linejoin="round">High</text>
<line x1="1528.25" y1="801.50" x2="1528.25" y2="814.50" stroke="#000" stroke-width="4.0" stroke-linecap="butt"/>
<text transform="translate(1526.40 833.00) scale(1.0 1.04)" font-size="19" font-weight="700" text-anchor="middle" stroke="#000" stroke-width="0.45" stroke-linejoin="round">Low</text>
<text transform="translate(1424.50 870.00) scale(1.0 1.04)" font-size="20.5" font-weight="700" text-anchor="middle" stroke="#000" stroke-width="0.45" stroke-linejoin="round">CX/CF reactivity on microarray</text>
<text transform="translate(1169.00 673.50) rotate(-90) scale(1.0 1.04)" font-size="20.4" font-weight="700" text-anchor="middle" stroke="#000" stroke-width="0.45" stroke-linejoin="round">Percent Killing</text>
<text transform="translate(1229.30 915.00) scale(1.0 1.04)" font-size="20.5" text-anchor="start" stroke="#000" stroke-width="0.25" stroke-linejoin="round">Blocker:</text>
<line x1="1344.25" y1="908.00" x2="1372.50" y2="908.00" stroke="#000" stroke-width="1.3" stroke-linecap="butt"/>
<rect x="1353.45" y="903.15" width="9.70" height="9.70" fill="#505050" stroke="#000" stroke-width="2.3"/>
<text transform="translate(1388.00 915.00) scale(1.0 1.04)" font-size="20.5" text-anchor="start" stroke="#000" stroke-width="0.25" stroke-linejoin="round">None</text>
<line x1="1471.25" y1="908.00" x2="1499.25" y2="908.00" stroke="#000" stroke-width="1.3" stroke-linecap="butt"/>
<rect x="1480.15" y="903.15" width="9.70" height="9.70" fill="#d0d0d0" stroke="#000" stroke-width="2.3"/>
<text transform="translate(1513.60 915.00) scale(1.03 1.04)" font-size="20.5" text-anchor="start" stroke="#000" stroke-width="0.25" stroke-linejoin="round">HRP 100µg</text>
</svg>
</body></html>
